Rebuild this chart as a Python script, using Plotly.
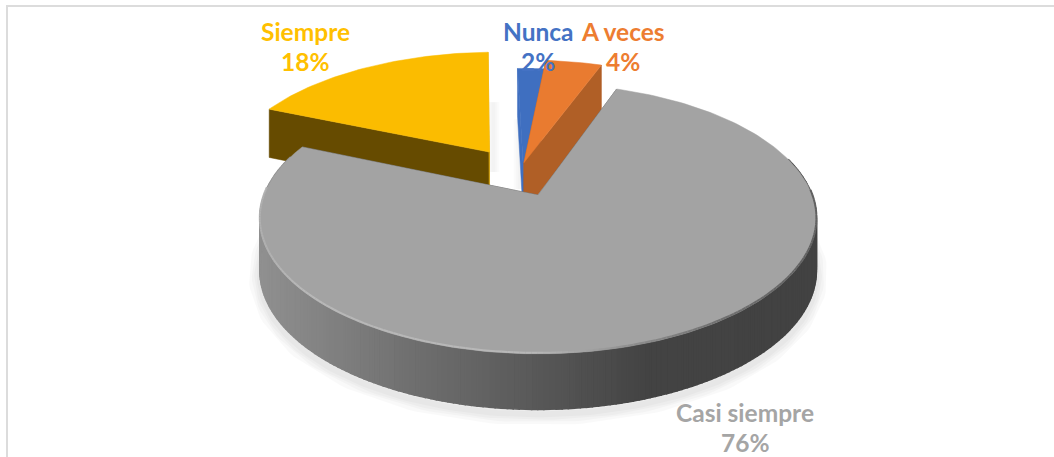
import numpy as np
import plotly.graph_objects as go

categories = ["Nunca", "A veces", "Casi siempre", "Siempre"]
percent = [2, 4, 76, 18]

colors = ["#4472c4", "#ed7d31", "#a5a5a5", "#ffc000"]
tops = ["#3f6fc0", "#e97b30", "#a3a3a3", "#fbbc00"]
walls = ["#3f6fc0", "#b05f26", "#444444", "#664b00"]
end_faces = ["#2f5aa0", "#b05f26", "#444444", "#e0a800"]
explode = [-0.02, 0.076, 0.2, 0.2]
nudge_x = [0.027, 0.01, 0, 0.005]
label_x = [538, 623, 745, 305]
label_y = [46, 46, 427, 46]

# pie seen in perspective, everything is projected from the pie plane
FIRST = np.radians(-2.1)
K, R, H, DEPTH = 0.175, 274, 131, 51
APEX_X, APEX_Y = 538, 195
CENTER = (-0.08, 0.183)


def project(px, pz, low=False):
    s = 1 / (1 + K * pz)
    y = APEX_Y - H * pz * s
    if low:
        y = y + DEPTH * s ** 0.45
    return APEX_X + R * px * s, y


def poly(fig, x, y, color, lw=0.5):
    fig.add_trace(go.Scatter(
        x=list(x), y=list(y), mode="lines", fill="toself", fillcolor=color,
        line=dict(color=color, width=lw), hoverinfo="skip", showlegend=False,
    ))


def soft_line(fig, x, y, widths, alpha):
    for w in widths:
        fig.add_trace(go.Scatter(
            x=x, y=y, mode="lines", line=dict(color=f"rgba(0,0,0,{alpha})", width=w),
            hoverinfo="skip", showlegend=False,
        ))


def wall_gray(x):
    # dark to the right, light to the left
    v = np.interp(x, [262, 400, 540, 645, 820], [0x90, 0x72, 0x58, 0x44, 0x42])
    return f"rgb({int(v)},{int(v)},{int(v)})"


def rim_gray(x):
    v = np.interp(x, [262, 300, 540, 640, 720, 816], [0xb0, 0xb8, 0xb8, 0x8c, 0x70, 0x60])
    return f"rgb({int(v)},{int(v)},{int(v)})"


fig = go.Figure()

shares = np.array(percent) / sum(percent) * 2 * np.pi
starts = FIRST + np.concatenate([[0], np.cumsum(shares)[:-1]])

slices = {}
for i, cat in enumerate(categories):
    t = np.linspace(starts[i], starts[i] + shares[i], max(8, int(percent[i] * 3)))
    mid = starts[i] + shares[i] / 2
    ox = CENTER[0] + explode[i] * np.sin(mid) + nudge_x[i]
    oz = CENTER[1] + explode[i] * np.cos(mid)
    slices[cat] = (t, ox, oz)

# soft shadow under the big slice
t, ox, oz = slices["Casi siempre"]
low = [t_ for t_ in t if np.cos(t_) < 0.15]
sx, sy = project(ox + np.sin(low), oz + np.cos(low), low=True)
soft_line(fig, sx, sy + 5, [22, 16, 11, 6], 0.022)

# faint shadows beside the cut faces of the small slices
t, ox, oz = slices["Siempre"]
ax, ay = project(ox, oz)
soft_line(fig, [ax + 4, ax + 4], [ay - 50, ay + 20], [12, 8, 4], 0.014)
t, ox, oz = slices["Nunca"]
ax, ay = project(ox, oz)
soft_line(fig, [ax - 4, ax - 4], [ay - 55, ay + 15], [12, 8, 4], 0.014)

for cat in ["Siempre", "Nunca", "A veces", "Casi siempre"]:
    i = categories.index(cat)
    t, ox, oz = slices[cat]
    ex, ez = ox + np.sin(t), oz + np.cos(t)
    ax, ay = project(ox, oz)
    ax2, ay2 = project(ox, oz, low=True)
    x1, y1 = project(ex, ez)
    x2, y2 = project(ex, ez, low=True)

    # cut faces
    poly(fig, [ax, x1[0], x2[0], ax2, ax], [ay, y1[0], y2[0], ay2, ay], walls[i] if cat != "Nunca" else tops[i])
    poly(fig, [ax, x1[-1], x2[-1], ax2, ax], [ay, y1[-1], y2[-1], ay2, ay], end_faces[i])

    # outer wall, one strip per step for the gradient
    if cat == "Casi siempre":
        tt = np.linspace(t[0], t[-1], 260)
    else:
        tt = t
    wx, wz = ox + np.sin(tt), oz + np.cos(tt)
    xa, ya = project(wx, wz)
    xb, yb = project(wx, wz, low=True)
    for j in range(len(tt) - 1):
        if np.cos(tt[j]) > 0.3:
            continue
        color = wall_gray((xa[j] + xa[j + 1]) / 2) if cat == "Casi siempre" else walls[i]
        poly(fig, [xa[j], xa[j + 1], xb[j + 1], xb[j], xa[j]],
             [ya[j], ya[j + 1], yb[j + 1], yb[j], ya[j]], color, lw=1.5)

    # top face
    poly(fig, [ax, *x1, ax], [ay, *y1, ay], tops[i])

    # bevel on the near edge of the big slice
    if cat == "Casi siempre":
        for j in range(len(tt) - 1):
            if np.cos(tt[j]) > 0.05:
                continue
            fig.add_trace(go.Scatter(
                x=[xa[j], xa[j + 1]], y=[ya[j] - 1, ya[j + 1] - 1], mode="lines",
                line=dict(color=rim_gray(xa[j]), width=2),
                hoverinfo="skip", showlegend=False,
            ))

for i, cat in enumerate(categories):
    # two annotations so the line gap stays tighter than the font's default
    for text, dy in [(cat, -15), (f"{percent[i]}%", 15)]:
        fig.add_annotation(
            x=label_x[i], y=label_y[i] + dy, text=f"<b>{text}</b>",
            showarrow=False, font=dict(family="Lato", size=24.5, color=colors[i]),
        )

# chart frame, only the left and top borders are in view
fig.add_shape(type="line", x0=7, x1=7, y0=6, y1=457, line=dict(color="#dcdcdc", width=2))
fig.add_shape(type="line", x0=6, x1=1054, y0=6, y1=6, line=dict(color="#dcdcdc", width=2))

fig.update_xaxes(range=[0, 1054], visible=False)
fig.update_yaxes(range=[457, 0], visible=False)
fig.update_layout(
    width=1054, height=457,
    margin=dict(l=0, r=0, t=0, b=0),
    paper_bgcolor="white", plot_bgcolor="white",
    showlegend=False,
)

fig.write_html("out.html", config={"displayModeBar": False},
               post_script="document.body.style.margin='0';")
